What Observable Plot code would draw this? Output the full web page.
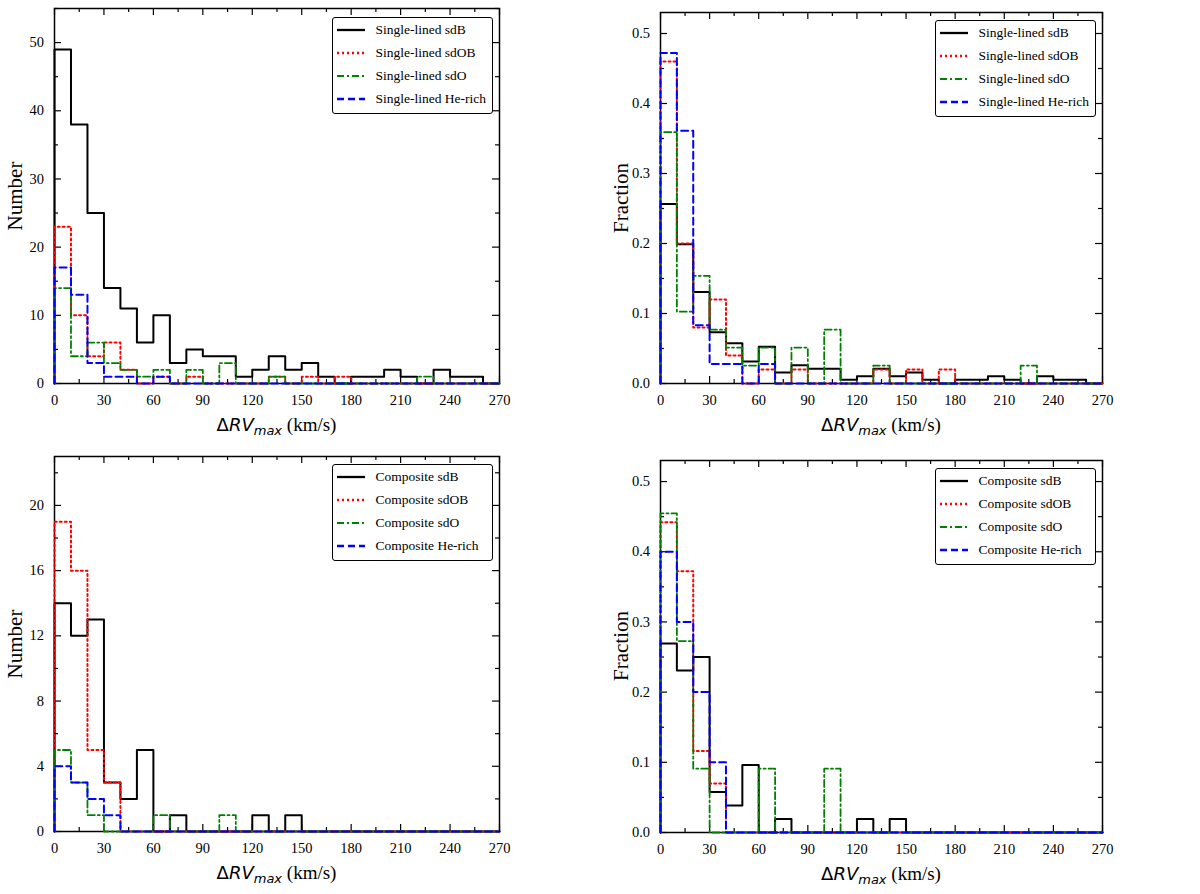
<!DOCTYPE html>
<html>
<head>
<meta charset="utf-8">
<script src="https://cdn.jsdelivr.net/npm/d3@7"></script>
<script src="https://cdn.jsdelivr.net/npm/@observablehq/plot@0.6"></script>
<style>
  body { margin: 0; background: #fff; }
  #fig { position: relative; width: 1200px; height: 894px; font-family: "Liberation Serif", serif; color: #000; }
  .panel { position: absolute; }
  .panel svg { display: block; }
  .legend { position: absolute; border: 1.5px solid #000; border-radius: 3px; background: #fff; box-sizing: border-box; }
  .legend .row { position: absolute; left: 0; height: 16px; display: flex; align-items: center; font-size: 13.5px; white-space: nowrap; }
  .xlabel { position: absolute; text-align: center; font-size: 19px; line-height: 22px; font-family: "Liberation Serif", serif; }
  .xlabel .m { font-family: "DejaVu Sans", sans-serif; font-size: 18px; }
  .xlabel .m i { font-style: italic; }
  .xlabel sub { font-family: "DejaVu Sans", sans-serif; font-style: italic; font-size: 13px; vertical-align: -4px; line-height: 0; }
  .ylabel { position: absolute; font-size: 21px; white-space: nowrap; transform: translate(-50%, -50%) rotate(-90deg); }
</style>
</head>
<body>
<div id="fig"></div>
<script>
// bins of 10 km/s from 0 to 270
const binStart = d3.range(0, 270, 10);
const xMajor = d3.range(0, 271, 30);
const xMinor = d3.range(15, 270, 30);

// single-lined stars, counts per bin
const singleSdB  = [49,38,25,14,11,6,10,3,5,4,4,1,2,4,2,3,1,0,1,1,2,1,0,2,1,1,0];
const singleSdOB = [23,10,4,6,2,0,1,0,1,0,0,0,0,1,0,1,0,1,0,0,0,0,0,0,0,0,0];
const singleSdO  = [14,4,6,3,2,1,2,0,2,0,3,0,0,1,0,0,0,0,0,0,0,0,1,0,0,0,0];
const singleHe   = [17,13,3,1,1,0,1,0,0,0,0,0,0,0,0,0,0,0,0,0,0,0,0,0,0,0,0];

// composite stars, counts per bin
const compSdB  = [14,12,13,3,2,5,0,1,0,0,0,0,1,0,1,0,0,0,0,0,0,0,0,0,0,0,0];
const compSdOB = [19,16,5,3,0,0,0,0,0,0,0,0,0,0,0,0,0,0,0,0,0,0,0,0,0,0,0];
const compSdO  = [5,3,1,0,0,0,1,0,0,0,1,0,0,0,0,0,0,0,0,0,0,0,0,0,0,0,0];
const compHe   = [4,3,2,1,0,0,0,0,0,0,0,0,0,0,0,0,0,0,0,0,0,0,0,0,0,0,0];

const singleNames = ["Single-lined sdB", "Single-lined sdOB", "Single-lined sdO", "Single-lined He-rich"];
const compNames = ["Composite sdB", "Composite sdOB", "Composite sdO", "Composite He-rich"];

const styles = [
  {stroke: "#000000", dash: null, width: 2},
  {stroke: "#ff0000", dash: "2,3", width: 2},
  {stroke: "#008000", dash: "7,3,2,3", width: 1.8},
  {stroke: "#0000ff", dash: "7,4", width: 2}
];

// step outline of a histogram, closed down to zero at both ends
function steps(values) {
  const pts = [{x: 0, y: 0}];
  binStart.forEach((b, i) => pts.push({x: b, y: values[i]}));
  pts.push({x: 270, y: 0});
  return pts;
}
const toFraction = v => { const n = d3.sum(v); return v.map(d => d / n); };

const panels = [
  {left: 0, top: 0, height: 440, m: {top: 8, right: 101, bottom: 57, left: 54},
   series: [singleSdB, singleSdOB, singleSdO, singleHe], names: singleNames, fraction: false,
   yMax: 55, yMajor: d3.range(0, 51, 10), yMinor: d3.range(5, 56, 10), legTop: 17, ylab: "Number"},
  {left: 600, top: 0, height: 440, m: {top: 12, right: 98, bottom: 57, left: 60},
   series: [singleSdB, singleSdOB, singleSdO, singleHe], names: singleNames, fraction: true,
   yMax: 0.53, yMajor: [0, 0.1, 0.2, 0.3, 0.4, 0.5], yMinor: [0.05, 0.15, 0.25, 0.35, 0.45], legTop: 20, ylab: "Fraction"},
  {left: 0, top: 440, height: 454, m: {top: 16, right: 101, bottom: 63, left: 54},
   series: [compSdB, compSdOB, compSdO, compHe], names: compNames, fraction: false,
   yMax: 23, yMajor: d3.range(0, 21, 4), yMinor: d3.range(2, 23, 4), legTop: 24, ylab: "Number"},
  {left: 600, top: 440, height: 454, m: {top: 20, right: 98, bottom: 62, left: 60},
   series: [compSdB, compSdOB, compSdO, compHe], names: compNames, fraction: true,
   yMax: 0.53, yMajor: [0, 0.1, 0.2, 0.3, 0.4, 0.5], yMinor: [0.05, 0.15, 0.25, 0.35, 0.45], legTop: 28, ylab: "Fraction"}
];

const fig = document.getElementById("fig");

panels.forEach(p => {
  const width = 600;
  const innerW = width - p.m.left - p.m.right;
  const innerH = p.height - p.m.top - p.m.bottom;

  const marks = [
    Plot.frame({stroke: "#000", strokeWidth: 1.5}),
    // inward ticks on all four sides
    Plot.ruleX(xMajor, {insetTop: innerH - 7, stroke: "#000", strokeWidth: 1.2}),
    Plot.ruleX(xMajor, {insetBottom: innerH - 7, stroke: "#000", strokeWidth: 1.2}),
    Plot.ruleX(xMinor, {insetTop: innerH - 4, stroke: "#000", strokeWidth: 1.2}),
    Plot.ruleX(xMinor, {insetBottom: innerH - 4, stroke: "#000", strokeWidth: 1.2}),
    Plot.ruleY(p.yMajor, {insetRight: innerW - 7, stroke: "#000", strokeWidth: 1.2}),
    Plot.ruleY(p.yMajor, {insetLeft: innerW - 7, stroke: "#000", strokeWidth: 1.2}),
    Plot.ruleY(p.yMinor, {insetRight: innerW - 4, stroke: "#000", strokeWidth: 1.2}),
    Plot.ruleY(p.yMinor, {insetLeft: innerW - 4, stroke: "#000", strokeWidth: 1.2}),
    Plot.axisX(xMajor, {tickSize: 0, tickPadding: 11.5, label: null, tickFormat: d3.format("d")}),
    Plot.axisY(p.yMajor, {tickSize: 0, tickPadding: 10.5, label: null,
      tickFormat: p.fraction ? d3.format(".1f") : d3.format("d")})
  ];
  p.series.forEach((v, i) => {
    const s = styles[i];
    marks.push(Plot.line(steps(p.fraction ? toFraction(v) : v), {
      x: "x", y: "y", curve: "step-after",
      stroke: s.stroke, strokeWidth: s.width, strokeDasharray: s.dash
    }));
  });

  const chart = Plot.plot({
    width: width,
    height: p.height,
    marginTop: p.m.top,
    marginRight: p.m.right,
    marginBottom: p.m.bottom,
    marginLeft: p.m.left,
    x: {domain: [0, 270]},
    y: {domain: [0, p.yMax]},
    style: {fontFamily: "Liberation Serif", fontSize: "14.5px", color: "#000", background: "#fff"},
    marks: marks
  });

  const div = document.createElement("div");
  div.className = "panel";
  div.style.left = p.left + "px";
  div.style.top = p.top + "px";
  div.style.width = width + "px";
  div.style.height = p.height + "px";
  div.appendChild(chart);

  // legend box, top right of the frame
  const leg = document.createElement("div");
  leg.className = "legend";
  const legW = 161;
  leg.style.left = (width - p.m.right - 6.5 - legW) + "px";
  leg.style.top = p.legTop + "px";
  leg.style.width = legW + "px";
  leg.style.height = "97px";
  p.names.forEach((name, i) => {
    const s = styles[i];
    const row = document.createElement("div");
    row.className = "row";
    row.style.top = (13 + 23 * i - 8 - 1.5) + "px";
    row.innerHTML =
      `<svg width="43" height="16" style="flex:none"><line x1="4" x2="32" y1="8" y2="8" stroke="${s.stroke}" stroke-width="${s.width + 0.3}" ${s.dash ? `stroke-dasharray="${s.dash}"` : ""}/></svg><span>${name}</span>`;
    leg.appendChild(row);
  });
  div.appendChild(leg);

  // x label
  const xl = document.createElement("div");
  xl.className = "xlabel";
  xl.style.left = p.m.left + "px";
  xl.style.width = innerW + "px";
  xl.style.top = (p.height - p.m.bottom + 31) + "px";
  xl.innerHTML = `<span class="m">Δ<i>RV</i></span><sub>max</sub> (km/s)`;
  div.appendChild(xl);

  // y label
  const yl = document.createElement("div");
  yl.className = "ylabel";
  yl.style.left = (p.m.left - 39) + "px";
  yl.style.top = (p.m.top + innerH / 2) + "px";
  yl.textContent = p.ylab;
  div.appendChild(yl);

  fig.appendChild(div);
});
</script>
</body>
</html>
